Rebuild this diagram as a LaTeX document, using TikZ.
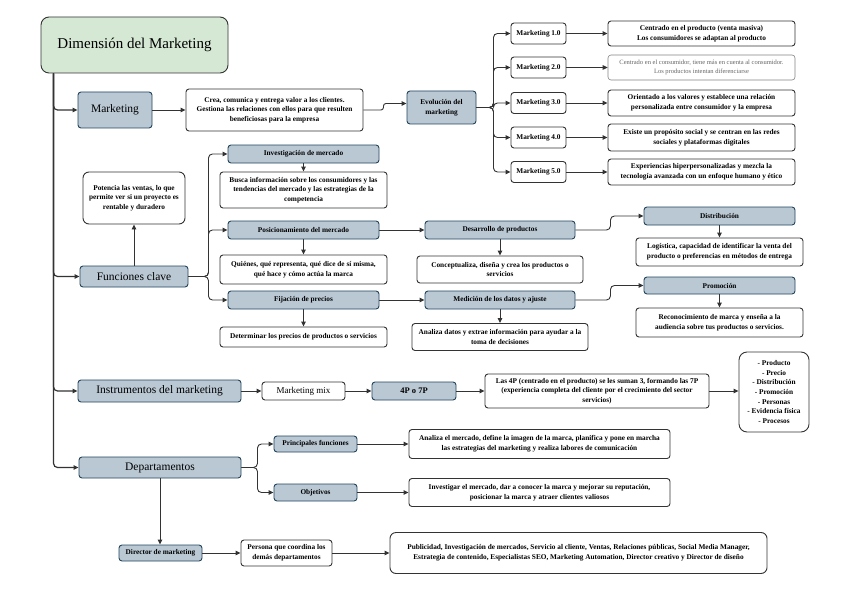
\documentclass[tikz,border=0pt]{standalone}
\usepackage{fontspec}
\setmainfont{Liberation Serif}
\usetikzlibrary{arrows.meta}
\definecolor{gfill}{HTML}{D5E8D4}
\definecolor{bfill}{HTML}{BAC8D3}
\definecolor{bdraw}{HTML}{23445D}
\definecolor{ldraw}{HTML}{333333}
\definecolor{gtext}{HTML}{666666}
\tikzset{
  bx/.style={draw, rounded corners=3pt, line width=0.9pt, align=center, inner sep=1pt},
  bluebx/.style={bx, fill=bfill, draw=bdraw},
  whitebx/.style={bx, fill=white, draw=ldraw},
  sz/.style 2 args={minimum width=#1pt, minimum height=#2pt},
  sm/.style={font=\fontsize{7.3}{9.6}\selectfont\bfseries},
  big/.style={font=\fontsize{11.5}{14}\selectfont},
  conn/.style={draw=ldraw, line width=0.9pt, rounded corners=4pt, -{Triangle[length=5pt,width=4.5pt]}},
}
\begin{document}
\begin{tikzpicture}[x=1pt,y=-1pt]
\fill[white] (0,0) rectangle (848,599);
\useasboundingbox (0,0) rectangle (848,599);

% title
\node[bx, rounded corners=8pt, fill=gfill, draw=ldraw, sz={187}{56}, font=\fontsize{15}{18}\selectfont] (title) at (134.5,45) {Dimensión del Marketing};
\coordinate (trunk) at ([xshift=13pt]title.south west);

% Marketing row
\node[bluebx, sz={74}{36}, big] (mk) at (115,110) {Marketing};
\node[whitebx, sz={177}{42}, sm] (crea) at (274.5,110) {Crea, comunica y entrega valor a los clientes.\\Gestiona las relaciones con ellos para que resulten\\beneficiosas para la empresa};
\node[bluebx, sz={69}{33}, sm] (evo) at (441.5,107.5) {Evolución del\\marketing};

\node[whitebx, sz={55}{21}, sm] (m1) at (538.5,33.5) {Marketing 1.0};
\node[whitebx, sz={55}{21}, sm] (m2) at (538.5,67.5) {Marketing 2.0};
\node[whitebx, sz={55}{21}, sm] (m3) at (538.5,103) {Marketing 3.0};
\node[whitebx, sz={55}{21}, sm] (m4) at (538.5,137.5) {Marketing 4.0};
\node[whitebx, sz={55}{21}, sm] (m5) at (538.5,172) {Marketing 5.0};

\node[whitebx, sz={187}{25}, sm] (d1) at (701.5,33.5) {Centrado en el producto (venta masiva)\\Los consumidores se adaptan al producto};
\node[bx, fill=white, draw=gtext!80, line width=0.6pt, sz={187}{25}, text=gtext, font=\fontsize{6.5}{9.5}\selectfont] (d2) at (701.5,67.5) {Centrado en el consumidor, tiene más en cuenta al consumidor.\\Los productos intentan diferenciarse};
\node[whitebx, sz={187}{26}, sm] (d3) at (701.5,103) {Orientado a los valores y establece una relación\\personalizada entre consumidor y la empresa};
\node[whitebx, sz={187}{27}, sm] (d4) at (701.5,137.5) {Existe un propósito social y se centran en las redes\\sociales y plataformas digitales};
\node[whitebx, sz={187}{26}, sm] (d5) at (701.5,172) {Experiencias hiperpersonalizadas y mezcla la\\tecnología avanzada con un enfoque humano y ético};

% Funciones clave
\node[whitebx, rounded corners=6pt, sz={102}{52}, sm] (pot) at (134,198) {Potencia las ventas, lo que\\permite ver si un proyecto es\\rentable y duradero};
\node[bluebx, sz={108}{21}, big] (fc) at (134,276.5) {Funciones clave};

\node[bluebx, sz={151}{18}, sm] (inv) at (303.5,154) {Investigación de mercado};
\node[whitebx, sz={167}{36}, sm] (busca) at (303.5,190) {Busca información sobre los consumidores y las\\tendencias del mercado y las estrategias de la\\competencia};
\node[bluebx, sz={151}{18}, sm] (pos) at (303.5,230) {Posicionamiento del mercado};
\node[whitebx, sz={167}{29}, sm] (quien) at (303.5,269.5) {Quiénes, qué representa, qué dice de sí misma,\\qué hace y cómo actúa la marca};
\node[bluebx, sz={151}{18}, sm] (fij) at (303.5,300) {Fijación de precios};
\node[whitebx, sz={167}{20}, sm] (det) at (303.5,337) {Determinar los precios de productos o servicios};

\node[bluebx, sz={150}{18}, sm] (des) at (500,230) {Desarrollo de productos};
\node[whitebx, sz={166}{27}, sm] (concep) at (500,269.5) {Conceptualiza, diseña y crea los productos o\\servicios};
\node[bluebx, sz={150}{18}, sm] (med) at (500,300) {Medición de los datos y ajuste};
\node[whitebx, sz={176}{27}, sm] (anal) at (500,337) {Analiza datos y extrae información para ayudar a la\\toma de decisiones};

\node[bluebx, sz={151}{18}, sm] (dist) at (719.5,216) {Distribución};
\node[whitebx, sz={167}{28}, sm] (logi) at (719.5,252) {Logística, capacidad de identificar la venta del\\producto o preferencias en métodos de entrega};
\node[bluebx, sz={151}{17}, sm] (prom) at (719.5,285.5) {Promoción};
\node[whitebx, sz={167}{29}, sm] (recon) at (719.5,322.5) {Reconocimiento de marca y enseña a la\\audiencia sobre tus productos o servicios.};

% Instrumentos
\node[bluebx, sz={163}{22}, big] (inst) at (159.5,391) {Instrumentos del marketing};
\node[whitebx, sz={83}{18}, font=\fontsize{9}{11}\selectfont] (mix) at (303.5,391) {Marketing mix};
\node[bluebx, sz={84}{18}, font=\fontsize{8.5}{10}\selectfont\bfseries] (p47) at (414,391) {4P o 7P};
\node[whitebx, sz={224}{34}, sm] (las4) at (597,391) {Las 4P (centrado en el producto) se les suman 3, formando las 7P\\(experiencia completa del cliente por el crecimiento del sector\\servicios)};
\node[whitebx, rounded corners=8pt, sz={70}{80}, sm] (list) at (774,392) {- Producto\\- Precio\\- Distribución\\- Promoción\\- Personas\\- Evidencia física\\- Procesos};

% Departamentos
\node[bluebx, sz={162}{21}, big] (dep) at (160,467.5) {Departamentos};
\node[bluebx, sz={83}{16}, sm] (pf) at (315.5,444) {Principales funciones};
\node[bluebx, sz={83}{17}, sm] (obj) at (315.5,492.5) {Objetivos};
\node[whitebx, sz={261}{29}, sm] (analm) at (539.5,444) {Analiza el mercado, define la imagen de la marca, planifica y pone en marcha\\las estrategias del marketing y realiza labores de comunicación};
\node[whitebx, sz={261}{28}, sm] (invm) at (539.5,492.5) {Investigar el mercado, dar a conocer la marca y mejorar su reputación,\\posicionar la marca y atraer clientes valiosos};
\node[bluebx, sz={83}{16}, sm] (dir) at (160.5,553) {Director de marketing};
\node[whitebx, sz={91}{26}, sm] (per) at (286.5,553) {Persona que coordina los\\demás departamentos};
\node[whitebx, rounded corners=6pt, sz={377}{41}, sm] (pub) at (578.5,553) {Publicidad, Investigación de mercados, Servicio al cliente, Ventas, Relaciones públicas, Social Media Manager,\\Estrategia de contenido, Especialistas SEO, Marketing Automation, Director creativo y Director de diseño};

% connectors: trunk
\draw[conn, line width=1.2pt] (trunk) |- (mk.west);
\draw[conn, line width=1.2pt] (trunk) |- (fc.west);
\draw[conn, line width=1.2pt] (trunk) |- (inst.west);
\draw[conn, line width=1.2pt] (trunk) |- (dep.west);

% marketing row
\draw[conn] (mk.east) -- (crea.west);
\draw[conn, rounded corners=2.5pt] (crea.east) -- ++(20pt,0) |- ([yshift=4pt]evo.west);
\coordinate (evs) at ([xshift=17pt]evo.east);
\foreach \m in {m1,m2,m3,m4,m5} {\draw[conn] (evo.east) -- (evs) |- (\m.west);}
\foreach \m/\d in {m1/d1,m2/d2,m3/d3,m4/d4,m5/d5} {\draw[conn] (\m.east) -- (\d.west);}

% funciones
\draw[conn] (fc.north) -- (pot.south);
\coordinate (fcs) at ([xshift=20pt]fc.east);
\foreach \n in {inv,pos,fij} {\draw[conn] (fc.east) -- (fcs) |- (\n.west);}
\foreach \a/\b in {inv/busca,pos/quien,fij/det,des/concep,med/anal,dist/logi,prom/recon} {\draw[conn] (\a.south) -- (\b.north);}
\draw[conn] (pos.east) -- (des.west);
\draw[conn] (fij.east) -- (med.west);
\draw[conn] (des.east) -- ++(35pt,0) |- (dist.west);
\draw[conn] (med.east) -- ++(35pt,0) |- (prom.west);

% instrumentos
\draw[conn] (inst.east) -- (mix.west);
\draw[conn] (mix.east) -- (p47.west);
\draw[conn] (p47.east) -- (las4.west);
\draw[conn] (las4.east) -- (list.west |- las4.east);

% departamentos
\coordinate (dps) at ([xshift=16pt]dep.east);
\draw[conn] (dep.east) -- (dps) |- (pf.west);
\draw[conn] (dep.east) -- (dps) |- (obj.west);
\draw[conn] (pf.east) -- (analm.west);
\draw[conn] (obj.east) -- (invm.west);
\draw[conn] (dep.south) -- (dep.south |- dir.north);
\draw[conn] (dir.east) -- (per.west);
\draw[conn] (per.east) -- (pub.west);
\end{tikzpicture}
\end{document}
